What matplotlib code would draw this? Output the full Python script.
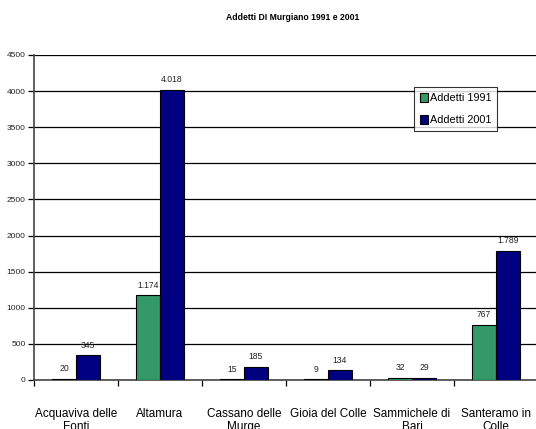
import matplotlib
matplotlib.use("Agg")
import matplotlib.pyplot as plt
import numpy as np

# Data
comuni = ["Acquaviva delle\nFonti", "Altamura", "Cassano delle\nMurge",
          "Gioia del Colle", "Sammichele di\nBari", "Santeramo in\nColle"]
addetti_1991 = [20, 1174, 15, 9, 32, 767]
addetti_2001 = [345, 4018, 185, 134, 29, 1789]
y_ticks = [0, 500, 1000, 1500, 2000, 2500, 3000, 3500, 4000, 4500]

GREEN = "#339966"
NAVY = "#000080"

plt.rcParams["font.family"] = ["Liberation Sans Narrow", "Liberation Sans", "DejaVu Sans"]


def fmt_it(v):
    # Italian thousands separator
    return f"{v:,}".replace(",", ".")


fig = plt.figure(figsize=(5.36, 4.29), dpi=100)
ax = fig.add_axes([34 / 536, 1 - 380 / 429, 504 / 536, 325 / 429])

x = np.arange(len(comuni))
w = 0.286
b1 = ax.bar(x - w / 2, addetti_1991, w, color=GREEN, edgecolor="black",
            linewidth=0.8, label="Addetti 1991", zorder=3)
b2 = ax.bar(x + w / 2, addetti_2001, w, color=NAVY, edgecolor="black",
            linewidth=0.8, label="Addetti 2001", zorder=3)

for bars, vals in ((b1, addetti_1991), (b2, addetti_2001)):
    for rect, v in zip(bars, vals):
        ax.text(rect.get_x() + rect.get_width() / 2, v + 75, fmt_it(v),
                ha="center", va="bottom", fontsize=6.2, color="#222222")

ax.set_xlim(-0.5, len(comuni) - 0.5)
ax.set_ylim(0, 4500)
ax.set_yticks(y_ticks)
ax.set_yticklabels([str(t) for t in y_ticks], fontsize=6, color="#222222")
ax.yaxis.grid(True, color="black", linewidth=0.9, zorder=0)
ax.set_axisbelow(True)

# category labels at centres, tick marks at boundaries
ax.set_xticks(x)
ax.set_xticklabels(comuni, fontsize=8.5, linespacing=1.15)
ax.tick_params(axis="x", length=0, pad=20)
ax.set_xticks(np.arange(len(comuni) + 1) - 0.5, minor=True)
ax.tick_params(axis="x", which="minor", length=4, width=0.9, direction="out")
ax.tick_params(axis="y", length=4, width=0.9, direction="out", pad=2)

for s in ("top", "right"):
    ax.spines[s].set_visible(False)
ax.spines["left"].set_color("#444444")
ax.spines["left"].set_linewidth(1.2)
ax.spines["bottom"].set_color("#444444")
ax.spines["bottom"].set_linewidth(1.2)

leg = ax.legend(loc="upper left", bbox_to_anchor=((414 - 34) / 504, (380 - 87) / 325),
                fontsize=7.8, frameon=True, fancybox=False, handlelength=0.7,
                handleheight=0.9, handletextpad=0.2, borderpad=0.55,
                labelspacing=1.1, borderaxespad=0)
leg.get_frame().set_edgecolor("black")
leg.get_frame().set_linewidth(0.8)

fig.text(293 / 536, 1 - 18 / 429, "Addetti DI Murgiano 1991 e 2001",
         ha="center", va="center", fontsize=6.2, fontweight="bold")

fig.savefig("out.png", dpi=100)
